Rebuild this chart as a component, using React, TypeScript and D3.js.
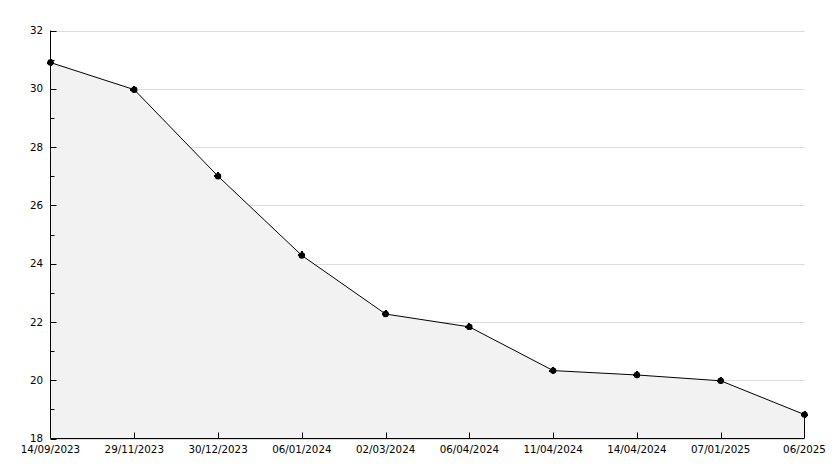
import React from "react";
import * as d3 from "d3";

const categories = [
  "14/09/2023",
  "29/11/2023",
  "30/12/2023",
  "06/01/2024",
  "02/03/2024",
  "06/04/2024",
  "11/04/2024",
  "14/04/2024",
  "07/01/2025",
  "06/2025",
];
const values = [30.9, 29.97, 27.0, 24.28, 22.27, 21.83, 20.33, 20.18, 19.98, 18.82];
const yMajorTicks = [18, 20, 22, 24, 26, 28, 30, 32];
const yMinorTicks = [19, 21, 23, 25, 27, 29, 31];

const W = 834;
const H = 468;
const left = 50.5;
const right = 804.5;
const top = 30.5;
const bottom = 438.5;

export default function App() {
  const x = d3
    .scalePoint<string>()
    .domain(categories)
    .range([left, right]);
  const y = d3.scaleLinear().domain([18, 32]).range([bottom, top]);

  const pts = categories.map((c, i) => [x(c) as number, y(values[i])] as [number, number]);
  const line = d3.line<[number, number]>()(pts) || "";
  const area =
    d3
      .area<[number, number]>()
      .x((d) => d[0])
      .y0(bottom)
      .y1((d) => d[1])(pts) || "";

  const font = "'DejaVu Sans', Verdana, sans-serif";

  return (
    <svg
      width={W}
      height={H}
      style={{ position: "absolute", left: 0, top: 0, background: "#fff" }}
      fontFamily={font}
    >
      <rect x={0} y={0} width={W} height={H} fill="#fff" />
      {yMajorTicks.map((t) => (
        <line
          key={"g" + t}
          x1={left}
          x2={right}
          y1={Math.round(y(t)) + 0.5}
          y2={Math.round(y(t)) + 0.5}
          stroke="#dcdcdc"
          strokeWidth={1}
        />
      ))}
      <path d={area} fill="#f2f2f2" stroke="none" />
      <line x1={right} x2={right} y1={pts[pts.length - 1][1]} y2={bottom} stroke="#000" />
      <path d={line} fill="none" stroke="#000" strokeWidth={1} />
      {/* axes */}
      <line x1={left} x2={left} y1={top} y2={bottom} stroke="#000" />
      <line x1={left} x2={right} y1={bottom} y2={bottom} stroke="#000" />
      {yMajorTicks.map((t) => (
        <g key={"yt" + t}>
          <line
            x1={left}
            x2={left + 6}
            y1={Math.round(y(t)) + 0.5}
            y2={Math.round(y(t)) + 0.5}
            stroke="#000"
          />
          <text
            x={43}
            y={y(t)}
            dy="0.35em"
            textAnchor="end"
            fontSize={10.3}
            fill="#000"
          >
            {t}
          </text>
        </g>
      ))}
      {yMinorTicks.map((t) => (
        <line
          key={"ym" + t}
          x1={left}
          x2={left + 4}
          y1={Math.round(y(t)) + 0.5}
          y2={Math.round(y(t)) + 0.5}
          stroke="#000"
        />
      ))}
      {categories.map((c, i) => {
        const xx = Math.round(x(c) as number) + 0.5;
        return (
          <g key={"xt" + c}>
            {i > 0 && i < categories.length - 1 && (
              <line x1={xx} x2={xx} y1={bottom} y2={bottom - 6} stroke="#000" />
            )}
            <text
              x={x(c) as number}
              y={453}
              textAnchor="middle"
              fontSize={10.3}
              fill="#000"
            >
              {c}
            </text>
          </g>
        );
      })}
      {pts.map((p, i) => (
        <g key={"m" + i}>
          <circle cx={p[0]} cy={p[1]} r={3.2} fill="#000" />
          <rect
            x={Math.round(p[0]) - 1}
            y={Math.round(p[1]) - 4}
            width={2}
            height={7}
            fill="#000"
            shapeRendering="crispEdges"
          />
          <rect
            x={Math.round(p[0]) - 4}
            y={Math.round(p[1]) - 1}
            width={7}
            height={2}
            fill="#000"
            shapeRendering="crispEdges"
          />
        </g>
      ))}
    </svg>
  );
}
